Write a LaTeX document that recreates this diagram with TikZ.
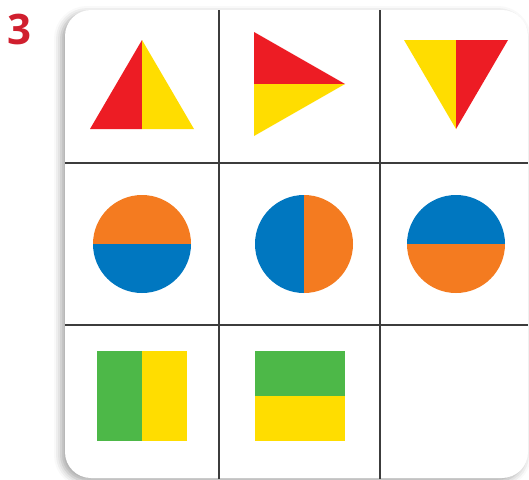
\documentclass[tikz,border=0pt]{standalone}
\usepackage{fontspec}
\setmainfont{Open Sans}
\usetikzlibrary{shadows.blur}
\definecolor{shapered}{HTML}{ED1C24}
\definecolor{shapeyellow}{HTML}{FFDD00}
\definecolor{shapeorange}{HTML}{F47B20}
\definecolor{shapeblue}{HTML}{0077C0}
\definecolor{shapegreen}{HTML}{4DB848}
\definecolor{numred}{HTML}{D01F2E}
\definecolor{gridgray}{HTML}{3C3C3C}

\begin{document}
\begin{tikzpicture}[x=1pt,y=-1pt,
    card/.style={fill=white, rounded corners=26pt,
      blur shadow={shadow xshift=-4pt, shadow yshift=-3pt,
        shadow blur radius=7pt, shadow opacity=35}},
    gridline/.style={draw=gridgray, line width=1.3pt},
    numlabel/.style={font=\bfseries\fontsize{42}{42}\selectfont, text=numred, inner sep=0pt}]
  \useasboundingbox (0,0) rectangle (529,479);
  \node[numlabel] (qnum) at (19,29) {3};
  % card and grid
  \path[card] (65,10) rectangle (528,478);
  \draw[gridline] (219,10) -- (219,479);
  \draw[gridline] (380,10) -- (380,479);
  \draw[gridline] (65,163) -- (528,163);
  \draw[gridline] (65,325) -- (528,325);
  % triangles
  \fill[shapered] (90,129) -- (142,40) -- (142,129) -- cycle;
  \fill[shapeyellow] (142,40) -- (194,129) -- (142,129) -- cycle;
  \fill[shapered] (254,32) -- (345,84) -- (254,84) -- cycle;
  \fill[shapeyellow] (254,84) -- (345,84) -- (254,136) -- cycle;
  \fill[shapeyellow] (404,40) -- (456,40) -- (456,129) -- cycle;
  \fill[shapered] (456,40) -- (508,40) -- (456,129) -- cycle;
  % circles
  \begin{scope}
    \clip (142,244) circle (49);
    \fill[shapeorange] (90,192) rectangle (194,244);
    \fill[shapeblue] (90,244) rectangle (194,296);
  \end{scope}
  \begin{scope}
    \clip (304,244) circle (49);
    \fill[shapeblue] (252,192) rectangle (304,296);
    \fill[shapeorange] (304,192) rectangle (356,296);
  \end{scope}
  \begin{scope}
    \clip (456,244) circle (49);
    \fill[shapeblue] (404,192) rectangle (508,244);
    \fill[shapeorange] (404,244) rectangle (508,296);
  \end{scope}
  % squares
  \fill[shapegreen] (97,351) rectangle (142,441);
  \fill[shapeyellow] (142,351) rectangle (187,441);
  \fill[shapegreen] (255,351) rectangle (345,396);
  \fill[shapeyellow] (255,396) rectangle (345,441);
\end{tikzpicture}
\end{document}
